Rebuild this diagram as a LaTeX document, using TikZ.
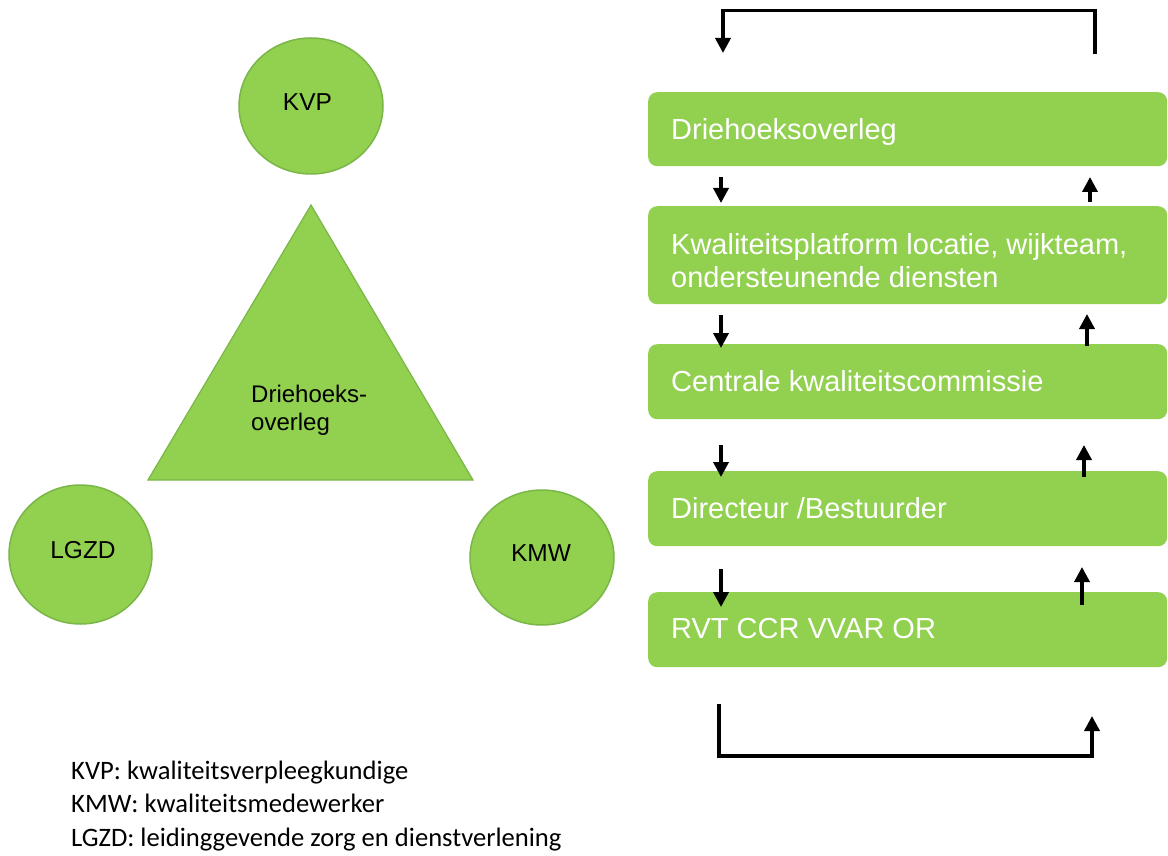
\documentclass[tikz,border=0pt]{standalone}
\usepackage{fontspec}
\setmainfont{Liberation Sans}
\newfontfamily\legendfont{Carlito}
\usetikzlibrary{arrows.meta,shapes.geometric}
\definecolor{boxgreen}{HTML}{92D050}
\definecolor{edgegreen}{HTML}{7AB648}
\begin{document}
\begin{tikzpicture}[x=1pt,y=-1pt,
  circ/.style={ellipse, fill=boxgreen, draw=edgegreen, line width=1.5pt, inner sep=0pt},
  ctext/.style={anchor=base, font=\fontsize{24.5}{29}\selectfont, inner sep=0pt},
  box/.style={rectangle, rounded corners=9pt, fill=boxgreen, anchor=north west, minimum width=519pt, inner sep=0pt},
  btext/.style={anchor=base west, inner sep=0pt, text=white, font=\fontsize{29}{33}\selectfont, align=left},
  flow/.style={line width=3.5pt, -{Triangle[width=15pt,length=15pt]}},
  bar/.style={line width=3.5pt},
  legendtext/.style={anchor=base west, inner sep=0pt, align=left, font=\legendfont\fontsize{26.6}{33.5}\selectfont}
]
\useasboundingbox (0,0) rectangle (1168,856);

% left part: circles and triangle
\node[circ, minimum width=144pt, minimum height=136pt] (kvp) at (311,106) {};
\node[ctext] (kvpt) at (307.5,111) {KVP};
\node[circ, minimum width=143pt, minimum height=139pt] (lgzd) at (80.5,554.5) {};
\node[ctext] (lgzdt) at (83,558) {LGZD};
\node[circ, minimum width=144pt, minimum height=135pt] (kmw) at (542,557.5) {};
\node[ctext] (kmwt) at (541,561) {KMW};

\coordinate (ta) at (311,205);
\coordinate (tr) at (473,480);
\coordinate (tl) at (148,480);
\draw[fill=boxgreen, draw=edgegreen, line width=1.2pt] (ta) -- (tr) -- (tl) -- cycle;
\node[anchor=base west, inner sep=0pt, align=left, font=\fontsize{24}{27.5}\selectfont] (trit) at (251,430) {Driehoeks-\\overleg};

% right part: boxes
\node[box, minimum height=74pt] (b1) at (648,92) {};
\node[box, minimum height=98pt] (b2) at (648,206) {};
\node[box, minimum height=75pt] (b3) at (648,344) {};
\node[box, minimum height=75pt] (b4) at (648,471) {};
\node[box, minimum height=75pt] (b5) at (648,592) {};

\node[btext] (t1) at (671,140) {Driehoeksoverleg};
\node[btext] (t2) at (671,287) {Kwaliteitsplatform locatie, wijkteam,\\ondersteunende diensten};
\node[btext] (t3) at (671,391) {Centrale kwaliteitscommissie};
\node[btext] (t4) at (671,518) {Directeur /Bestuurder};
\node[btext] (t5) at (671,638) {RVT CCR VVAR OR};

% top bracket
\coordinate (tbl) at (723,53);
\coordinate (tbl2) at (723,10.5);
\coordinate (tbr2) at (1095,10.5);
\coordinate (tbr) at (1095,54);
\draw[bar, {Triangle[width=15pt,length=15pt]}-] (tbl) -- (tbl2) -- (tbr2) -- (tbr);

% bottom bracket
\coordinate (bbl) at (719,704);
\coordinate (bbl2) at (719,756);
\coordinate (bbr2) at (1092,756);
\coordinate (bbr) at (1092,716);
\draw[bar, -{Triangle[width=15pt,length=15pt]}] (bbl) -- (bbl2) -- (bbr2) -- (bbr);

% arrows between boxes
\coordinate (d1s) at (721,177); \coordinate (d1e) at (721,203);
\coordinate (u1s) at (1090,202); \coordinate (u1e) at (1090,177);
\coordinate (d2s) at (721,315); \coordinate (d2e) at (721,348);
\coordinate (u2s) at (1087,346); \coordinate (u2e) at (1087,314);
\coordinate (d3s) at (721,445); \coordinate (d3e) at (721,477);
\coordinate (u3s) at (1084,477); \coordinate (u3e) at (1084,445);
\coordinate (d4s) at (721,569); \coordinate (d4e) at (721,607);
\coordinate (u4s) at (1082,605); \coordinate (u4e) at (1082,567);
\foreach \i in {1,2,3,4}{
  \draw[flow] (d\i s) -- (d\i e);
  \draw[flow] (u\i s) -- (u\i e);
}

% legend
\node[legendtext] (legend) at (71,846) {KVP: kwaliteitsverpleegkundige\\KMW: kwaliteitsmedewerker\\LGZD: leidinggevende zorg en dienstverlening};
\end{tikzpicture}
\end{document}
